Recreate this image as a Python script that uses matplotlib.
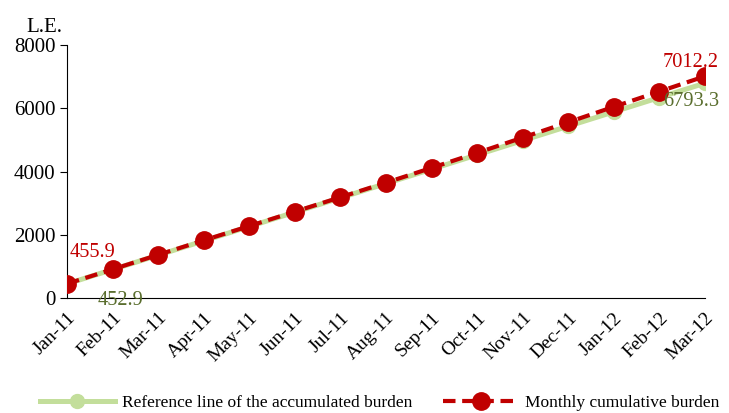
import matplotlib
matplotlib.use("Agg")
import matplotlib.pyplot as plt

plt.rcParams['font.family'] = ['Liberation Serif', 'DejaVu Serif']

months = ["Jan-11", "Feb-11", "Mar-11", "Apr-11", "May-11", "Jun-11", "Jul-11", "Aug-11",
          "Sep-11", "Oct-11", "Nov-11", "Dec-11", "Jan-12", "Feb-12", "Mar-12"]
reference = [452.9, 905.8, 1358.7, 1811.6, 2264.5, 2717.4, 3170.3, 3623.2,
             4076.1, 4529.0, 4981.9, 5434.8, 5887.7, 6340.6, 6793.3]
monthly = [455.9, 912, 1370, 1828, 2280, 2735, 3190, 3650,
           4118, 4592, 5075, 5560, 6048, 6530, 7012.2]

RED = "#C00000"
GREEN = "#C3DE9B"
DARKGREEN = "#5A6E2E"

fig = plt.figure(figsize=(7.29, 4.13), dpi=100)
ax = fig.add_axes([0.092, 0.278, 0.875, 0.613])

x = list(range(len(months)))
ax.plot(x, reference, color=GREEN, lw=3.6, marker="o", ms=10, mfc=GREEN, mec=GREEN,
        label="Reference line of the accumulated burden", zorder=2)
ax.plot(x, monthly, color=RED, lw=3, ls=(0, (3, 1.6)), marker="o", ms=12.5, mfc=RED, mec=RED,
        label="Monthly cumulative burden", zorder=3)

# end-point value labels
ax.annotate(f"{monthly[0]}", (x[0], monthly[0]), xytext=(2, 16), textcoords="offset points",
            color=RED, fontsize=14.7, ha="left", va="bottom")
ax.annotate(f"{reference[0]}", (x[0], reference[0]), xytext=(22, -19), textcoords="offset points",
            color=DARKGREEN, fontsize=14.7, ha="left", va="bottom")
ax.annotate(f"{monthly[-1]}", (x[-1], monthly[-1]), xytext=(10, 3), textcoords="offset points",
            color=RED, fontsize=14.7, ha="right", va="bottom")
ax.annotate(f"{reference[-1]}", (x[-1], reference[-1]), xytext=(10, -6), textcoords="offset points",
            color=DARKGREEN, fontsize=14.7, ha="right", va="top")

ax.set_xlim(0, len(months) - 1)
ax.set_ylim(0, 8000)
ax.set_yticks([0, 2000, 4000, 6000, 8000])
ax.set_xticks(x)
ax.set_xticklabels(months, rotation=45, ha="right", rotation_mode="anchor", fontsize=14)
ax.set_xticks(x[::2], minor=True)
ax.tick_params(axis="x", which="major", length=0, pad=8)
ax.tick_params(axis="x", which="minor", length=5, direction="out")
ax.tick_params(axis="y", labelsize=15, length=5, direction="out")

for s in ["top", "right"]:
    ax.spines[s].set_visible(False)

ax.text(-0.008, 1.03, "L.E.", transform=ax.transAxes, fontsize=15, ha="right", va="bottom")

ax.legend(loc="upper center", bbox_to_anchor=(0.49, -0.32), ncol=2, frameon=False,
          fontsize=12.5, handlelength=4.3, columnspacing=1.8, handletextpad=0.4)

fig.savefig("out.png", dpi=100)
